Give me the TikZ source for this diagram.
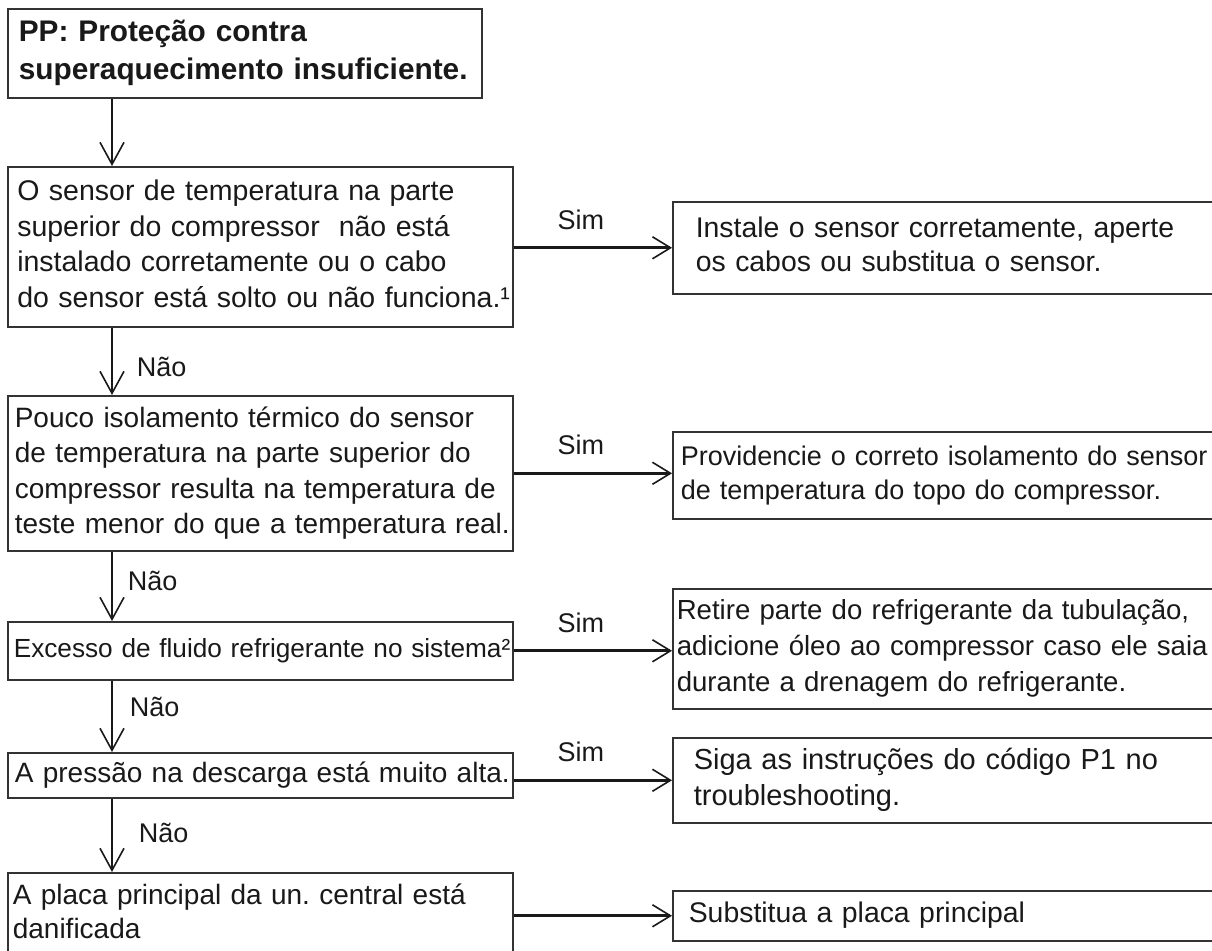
\documentclass[tikz,border=0pt]{standalone}
\usepackage{fontspec}
\setmainfont{Liberation Sans}
\usetikzlibrary{arrows.meta, positioning}
\frenchspacing
\newcommand{\boxlines}[1]{\begin{tabular}{@{}l@{}}#1\end{tabular}}

\begin{document}
\begin{tikzpicture}[x=0.5pt, y=-0.5pt,
  box/.style={draw=black!80, line width=0.8pt, anchor=north west, align=left, inner ysep=0pt, text=black!90},
  yesarrow/.style={-{Straight Barb[length=9pt, width=11pt, line width=0.8pt]}, line width=1.3pt, black!90},
  noarrow/.style={-{Straight Barb[length=11pt, width=12pt, line width=0.8pt]}, line width=0.9pt, black!90},
  lbl/.style={inner sep=0pt, text=black!90, font=\fontsize{13.5}{16}\selectfont}]

  \useasboundingbox (0,0) rectangle (1212,951);

  % Questions (left column)
  \node[box, text width=226pt, inner xsep=5.5pt, minimum height=44.5pt, font=\bfseries\fontsize{14.9}{19}\selectfont] (pp) at (7,8) {\boxlines{PP: Proteção contra\\superaquecimento insuficiente.}};
  \node[box, text width=243pt, inner xsep=4.75pt, minimum height=80pt, font=\fontsize{14.25}{17.75}\selectfont] (sensor) at (7,166) {\boxlines{O sensor de temperatura na parte\\superior do compressor~ não está\\instalado corretamente ou o cabo\\do sensor está solto ou não funciona.¹}};
  \node[box, text width=245.5pt, inner xsep=3.5pt, minimum height=77.5pt, font=\fontsize{14}{17.75}\selectfont] (insul) at (7,395) {\boxlines{Pouco isolamento térmico do sensor\\de temperatura na parte superior do\\compressor resulta na temperatura de\\teste menor do que a temperatura real.}};
  \node[box, text width=246.5pt, inner xsep=3pt, minimum height=29pt, font=\fontsize{13.1}{16}\selectfont] (excess) at (7,621) {\boxlines{Excesso de fluido refrigerante no sistema²}};
  \node[box, text width=245.5pt, inner xsep=3.5pt, minimum height=22.5pt, font=\fontsize{14}{17}\selectfont] (press) at (7,752) {\boxlines{A pressão na descarga está muito alta.}};
  \node[box, text width=247.5pt, inner xsep=2.5pt, minimum height=41.5pt, font=\fontsize{14}{17}\selectfont] (board) at (7,872) {\boxlines{A placa principal da un. central está\\danificada}};

  % Actions (right column)
  \node[box, text width=253.5pt, inner xsep=11.5pt, minimum height=46pt, font=\fontsize{14.2}{17}\selectfont] (fixsensor) at (672,201) {\boxlines{Instale o sensor corretamente, aperte\\os cabos ou substitua o sensor.}};
  \node[box, text width=268.5pt, inner xsep=4pt, minimum height=43.5pt, font=\fontsize{13.5}{17}\selectfont] (fixinsul) at (672,431) {\boxlines{Providencie o correto isolamento do sensor\\de temperatura do topo do compressor.}};
  \node[box, text width=272.5pt, inner xsep=2pt, minimum height=60pt, font=\fontsize{13.8}{18}\selectfont] (drain) at (672,588) {\boxlines{Retire parte do refrigerante da tubulação,\\adicione óleo ao compressor caso ele saia\\durante a drenagem do refrigerante.}};
  \node[box, text width=255.5pt, inner xsep=10.5pt, minimum height=42.5pt, font=\fontsize{14.5}{18}\selectfont] (codep1) at (672,737) {\boxlines{Siga as instruções do código P1 no\\troubleshooting.}};
  \node[box, text width=260.5pt, inner xsep=8pt, minimum height=25pt, font=\fontsize{14.2}{17}\selectfont] (replace) at (672,890) {\boxlines{Substitua a placa principal}};

  % Arrows down the left column
  \coordinate (spine) at (112,0);
  \draw[noarrow] (pp.south -| spine) -- (sensor.north -| spine);
  \draw[noarrow] (sensor.south -| spine) -- node[lbl, pos=0.59, right=12pt] {Não} (insul.north -| spine);
  \draw[noarrow] (insul.south -| spine) -- node[lbl, pos=0.42, right=7.5pt] {Não} (excess.north -| spine);
  \draw[noarrow] (excess.south -| spine) -- node[lbl, pos=0.37, right=8.5pt] {Não} (press.north -| spine);
  \draw[noarrow] (press.south -| spine) -- node[lbl, pos=0.47, right=13pt] {Não} (board.north -| spine);

  % Arrows to the actions
  \draw[yesarrow] (sensor.east |- fixsensor.west) -- node[lbl, pos=0.425, above=8.5pt] {Sim} (fixsensor.west);
  \draw[yesarrow] (insul.east) -- node[lbl, pos=0.425, above=8.5pt] {Sim} (insul.east -| fixinsul.west);
  \draw[yesarrow] (excess.east) -- node[lbl, pos=0.425, above=8.5pt] {Sim} (excess.east -| drain.west);
  \draw[yesarrow] (press.east |- codep1.west) -- node[lbl, pos=0.425, above=8.5pt] {Sim} (codep1.west);
  \draw[yesarrow] (board.east |- replace.west) -- (replace.west);
\end{tikzpicture}
\end{document}
